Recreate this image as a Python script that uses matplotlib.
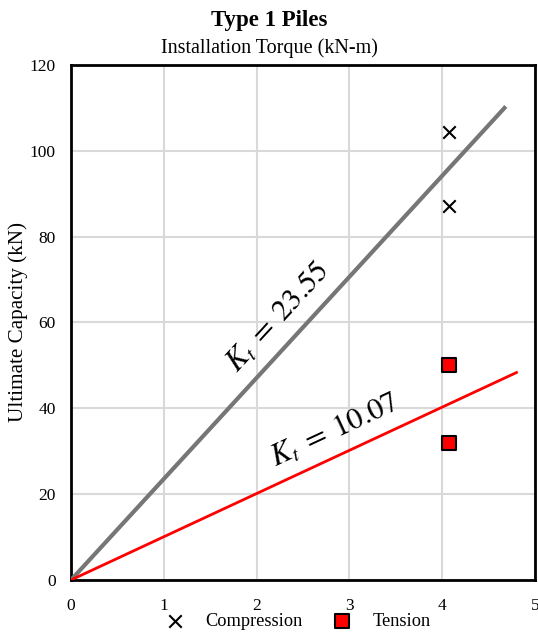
import matplotlib
matplotlib.use("Agg")
import matplotlib.pyplot as plt
import numpy as np

plt.rcParams['font.family'] = ['Liberation Serif', 'DejaVu Serif']
plt.rcParams['mathtext.fontset'] = 'stix'

# Data
comp_torque = [4.07, 4.07]
comp_capacity = [104.5, 87.2]
tens_torque = [4.07, 4.07]
tens_capacity = [50.1, 32.0]
kt_compression = 23.55
kt_tension = 10.07
comp_line_x = [0, 4.67]
tens_line_x = [0, 4.80]

fig = plt.figure(figsize=(5.38, 6.34), dpi=100)
ax = fig.add_axes([0.132, 0.0852, 0.8625, 0.8123])

ax.plot(comp_line_x, [kt_compression * x for x in comp_line_x], color='#767676', lw=3, zorder=3)
ax.plot(tens_line_x, [kt_tension * x for x in tens_line_x], color='#ff0000', lw=2, zorder=3)

ax.scatter(comp_torque, comp_capacity, marker='x', s=80, color='black', linewidths=1.5, zorder=4, label='Compression')
ax.scatter(tens_torque, tens_capacity, marker='s', s=110, facecolor='#ff0000', edgecolor='black', linewidths=1.5, zorder=4, label='Tension')

ax.set_xlim(0, 5)
ax.set_ylim(0, 120)
ax.set_xticks([0, 1, 2, 3, 4, 5])
ax.set_yticks([0, 20, 40, 60, 80, 100, 120])
ax.grid(True, color='#d9d9d9', lw=1.5)
ax.set_axisbelow(True)
ax.tick_params(axis='y', length=0, labelsize=12.5, pad=11)
ax.tick_params(axis='x', length=0, labelsize=12.5, pad=13)
for s in ax.spines.values():
    s.set_linewidth(2)
    s.set_color('black')

ax.text(2.24, 61, r'$K_t\;=\;\mathrm{23.55}$', fontsize=22, rotation=47.4, ha='center', va='center',
        rotation_mode='anchor')
ax.text(2.85, 34.6, r'$K_t\;=\;\mathrm{10.07}$', fontsize=22, rotation=25, ha='center', va='center',
        rotation_mode='anchor')

ax.set_ylabel('Ultimate Capacity (kN)', fontsize=15.2)
ax.yaxis.set_label_coords(-0.092, 0.50)
fig.text(0.5, 0.924, 'Installation Torque (kN-m)', fontsize=14.5, ha='center', va='center')
fig.text(0.5, 0.968, 'Type 1 Piles', fontsize=16.5, fontweight='bold', ha='center', va='center')

leg = fig.legend(loc='center', bbox_to_anchor=(0.546, 0.02), ncol=2, frameon=False, fontsize=13.2,
                 handletextpad=0.68, columnspacing=1.15, markerscale=1.0)

fig.savefig('out.png', dpi=100)
